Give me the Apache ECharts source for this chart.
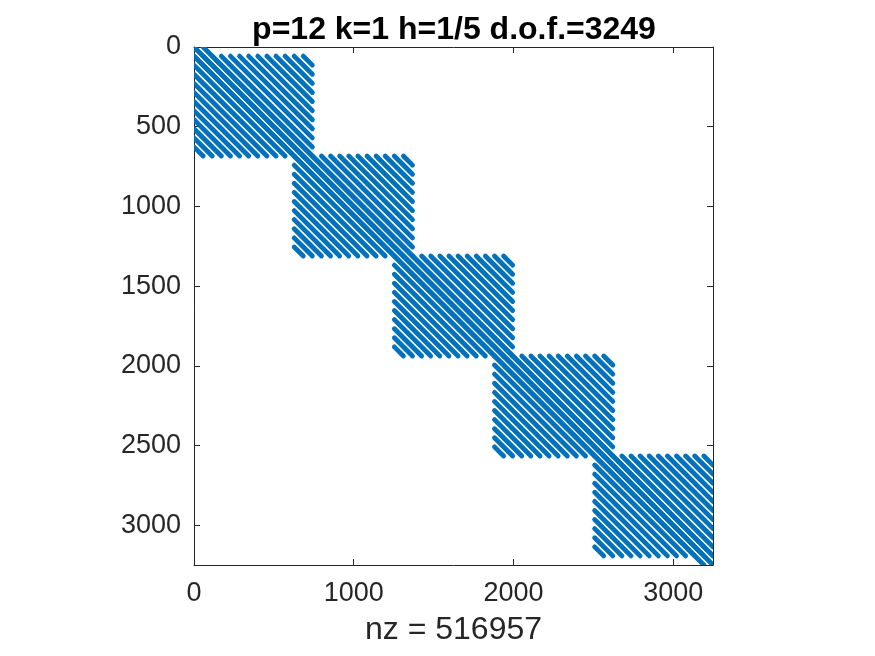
<!DOCTYPE html>
<html>
<head>
<meta charset="utf-8">
<script src="https://cdn.jsdelivr.net/npm/echarts@6/dist/echarts.min.js"></script>
<style>
  html, body { margin: 0; padding: 0; background: #fff; }
  #spy { width: 875px; height: 656px; }
</style>
</head>
<body>
<div id="spy"></div>
<script>
// matrix size and the stripe spacing (one grid line = 57 dofs)
const nDof = 3249;
const period = 57;
const nnz = 516957;

// the five diagonal blocks (row / column ranges)
const blockRowStart = [57, 684, 1311, 1938, 2565];
const blockRowEnd = [684, 1311, 1938, 2565, 3192];
const blockColStart = [0, 627, 1254, 1881, 2508];
const blockColEnd = [741, 1368, 1995, 2622, 3249];
const blockStripes = [-12, -11, -10, -9, -8, -7, -6, -5, -4, -3, -2, -1, 0,
                      1, 2, 3, 4, 5, 6, 7, 8, 9, 10, 11, 12];

// stripes that run the whole length of the main diagonal
const bandStripes = [-1, 0, 1];

const xTickStep = 1000;
const yTickStep = 500;

// one diagonal stripe c = r + s*period clipped to a row/col box -> [x1, y1, x2, y2]
function stripe(s, r0, r1, c0, c1) {
    let d = s * period;
    let ra = Math.max(r0, c0 - d);
    let rb = Math.min(r1, c1 - d);
    if (ra >= rb) return null;
    return [ra + d, ra, rb + d, rb];
}

let segs = [];
bandStripes.forEach(s => {
    let g = stripe(s, 0, nDof, 0, nDof);
    if (g) segs.push(g);
});
for (let b = 0; b < blockRowStart.length; b++) {
    blockStripes.forEach(s => {
        let g = stripe(s, blockRowStart[b], blockRowEnd[b], blockColStart[b], blockColEnd[b]);
        if (g) segs.push(g);
    });
}

const axisColor = '#262626';
const font = 'Liberation Sans, Arial, Helvetica, sans-serif';

function boxAxis(pos, step, extra) {
    return Object.assign({
        type: 'value',
        position: pos,
        min: 0,
        max: nDof,
        interval: step,
        axisLine: { show: true, onZero: false, lineStyle: { color: axisColor, width: 1 } },
        axisTick: { show: true, inside: true, length: 6, lineStyle: { color: axisColor } },
        axisLabel: { show: false },
        splitLine: { show: false }
    }, extra || {});
}

function plain(v) { return String(v); }

let chart = echarts.init(document.getElementById('spy'));
chart.setOption({
    animation: false,
    backgroundColor: '#fff',
    title: {
        text: 'p=12 k=1 h=1/5 d.o.f.=' + nDof,
        left: 449,
        top: 9,
        textAlign: 'center',
        textStyle: { fontFamily: font, fontSize: 32, fontWeight: 'bold', color: '#000' }
    },
    grid: { left: 194, right: 162, top: 47, bottom: 91, containLabel: false, outerBoundsMode: 'none' },
    xAxis: [
        boxAxis('bottom', xTickStep, {
            axisLabel: { show: true, showMaxLabel: false, margin: 15, color: axisColor,
                         fontFamily: font, fontSize: 27, formatter: plain },
            name: 'nz = ' + nnz,
            nameLocation: 'middle',
            nameGap: 49,
            nameTextStyle: { fontFamily: font, fontSize: 32, color: axisColor }
        }),
        boxAxis('top', xTickStep)
    ],
    yAxis: [
        boxAxis('left', yTickStep, {
            inverse: true,
            axisLabel: { show: true, showMaxLabel: false, margin: 13, color: axisColor,
                         fontFamily: font, fontSize: 27, formatter: plain }
        }),
        boxAxis('right', yTickStep, { inverse: true })
    ],
    series: [{
        type: 'custom',
        xAxisIndex: 0,
        yAxisIndex: 0,
        clip: true,
        data: segs,
        encode: { x: [0, 2], y: [1, 3] },
        renderItem: function (params, api) {
            let p1 = api.coord([api.value(0), api.value(1)]);
            let p2 = api.coord([api.value(2), api.value(3)]);
            return {
                type: 'line',
                shape: { x1: p1[0], y1: p1[1], x2: p2[0], y2: p2[1] },
                style: { stroke: '#0072BD', lineWidth: 4.8, lineCap: 'round' }
            };
        }
    }]
});
</script>
</body>
</html>
